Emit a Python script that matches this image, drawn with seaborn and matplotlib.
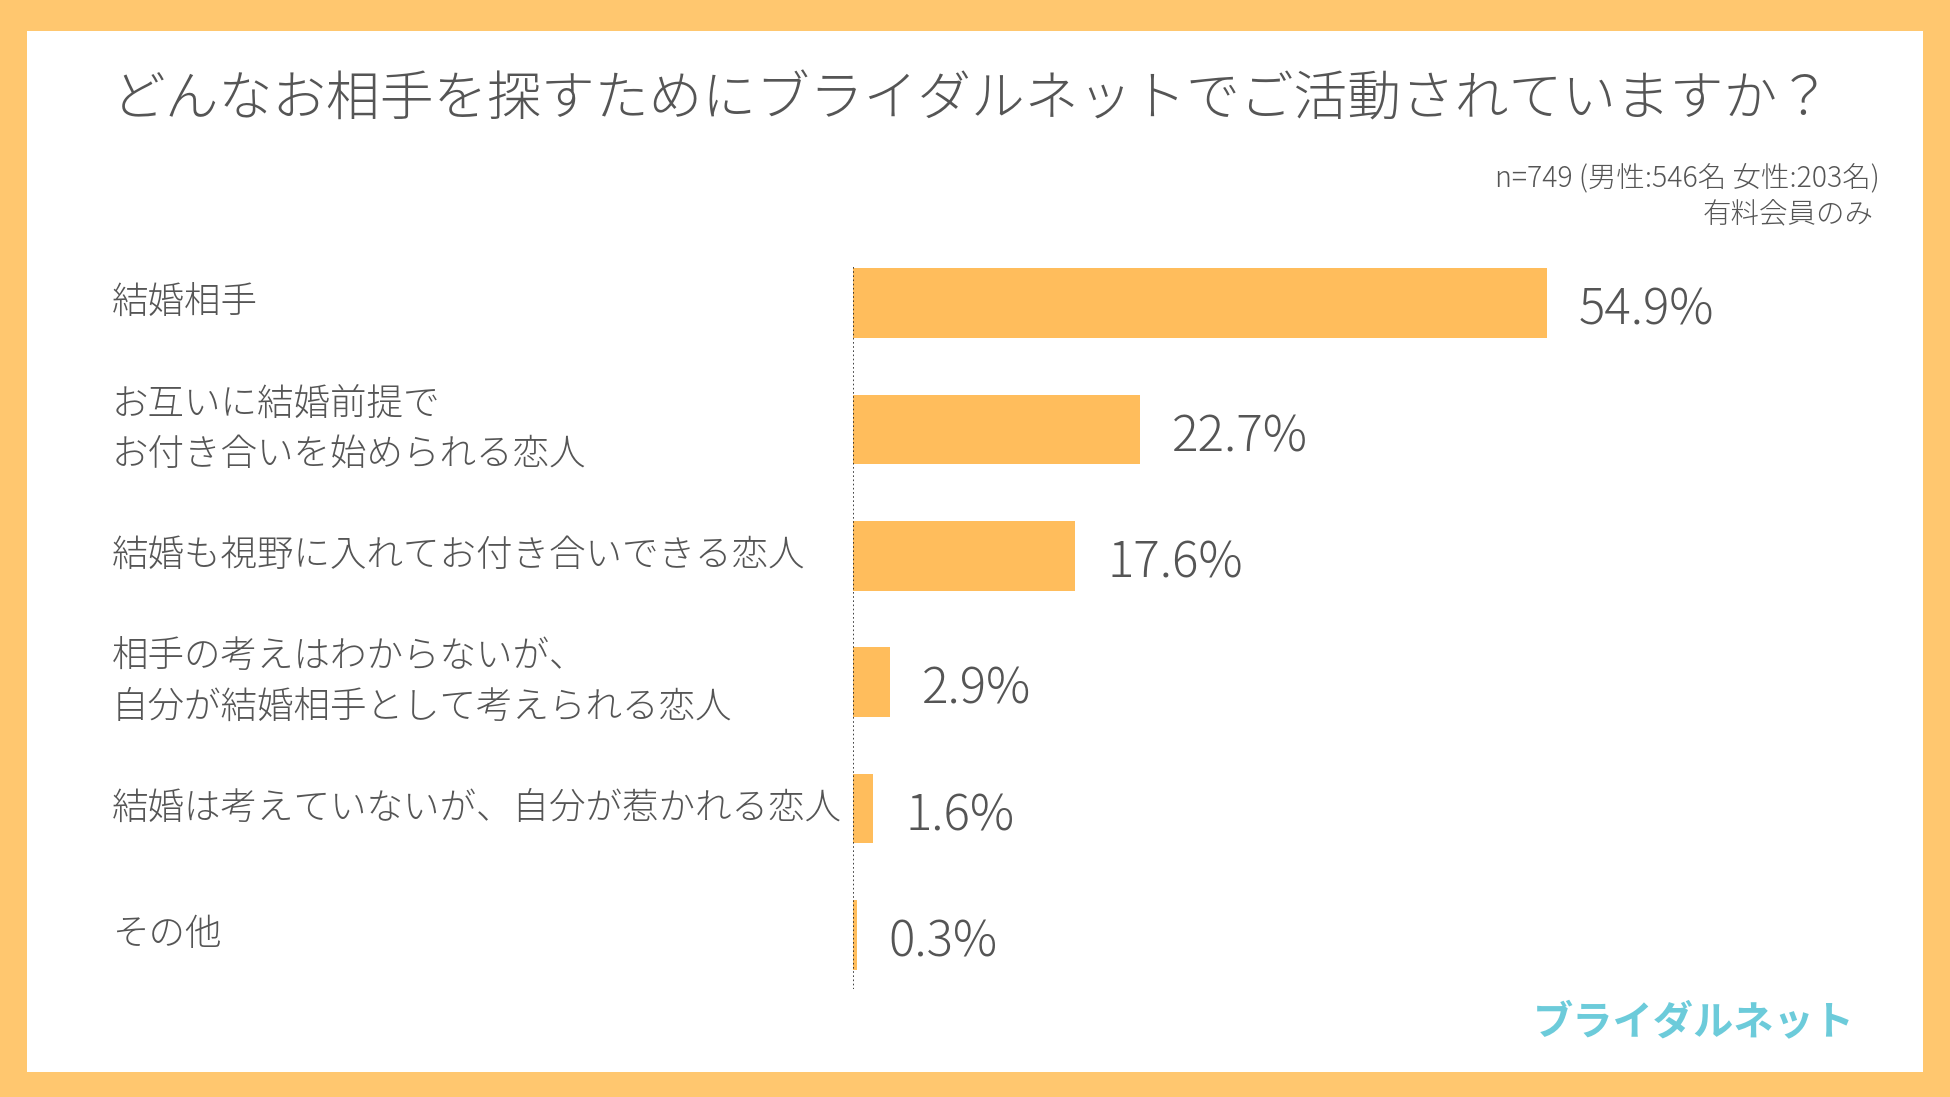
import matplotlib
matplotlib.use("Agg")
import matplotlib.pyplot as plt
import seaborn as sns
import pandas as pd
from matplotlib.patches import Rectangle

# ---- data ----
categories = [
    "結婚相手",
    "お互いに結婚前提で\nお付き合いを始められる恋人",
    "結婚も視野に入れてお付き合いできる恋人",
    "相手の考えはわからないが、\n自分が結婚相手として考えられる恋人",
    "結婚は考えていないが、自分が惹かれる恋人",
    "その他",
]
values = [54.9, 22.7, 17.6, 2.9, 1.6, 0.3]
value_labels = ["54.9%", "22.7%", "17.6%", "2.9%", "1.6%", "0.3%"]
title = "どんなお相手を探すためにブライダルネットでご活動されていますか？"
note_lines = ["n=749 (男性:546名 女性:203名)", "有料会員のみ"]
logo = "ブライダルネット"

sns.set_theme(style="white")
plt.rcParams["font.family"] = ["Noto Sans CJK JP", "DejaVu Sans"]

W, H = 1950, 1097
ORANGE_BG = "#FFC76F"
BAR = "#FFBD5C"
TXT = "#555555"

fig = plt.figure(figsize=(W / 100, H / 100), dpi=100, facecolor=ORANGE_BG)
fig.patches.append(Rectangle((27 / W, 1 - 1072 / H), (1923 - 27) / W, (1072 - 31) / H,
                             transform=fig.transFigure, facecolor="white",
                             edgecolor="none", zorder=-5))

ax_left, ax_right = 853 / W, 1864 / W
ax_top, ax_bot = 240 / H, 998 / H
ax = fig.add_axes([ax_left, 1 - ax_bot, ax_right - ax_left, ax_bot - ax_top])
ax.set_facecolor("none")
ax.set_zorder(2)

df = pd.DataFrame({"category": categories, "value": values})
sns.barplot(data=df, x="value", y="category", orient="h", color=BAR,
            saturation=1, width=0.554, ax=ax, edgecolor="none")
ax.set_xlim(0, 80)
ax.set_ylim(5.5, -0.5)
for s in ax.spines.values():
    s.set_visible(False)
ax.set_xticks([])
ax.set_yticks([])
ax.set_xlabel("")
ax.set_ylabel("")
ax.vlines(0, -0.285, 5.43, colors="#222222", linestyles=(0, (1, 1.5)), linewidth=1.2, zorder=3)

# value labels
for i, (v, lab) in enumerate(zip(values, value_labels)):
    ax.annotate(lab, xy=(v, i), xytext=(32, -8), textcoords="offset pixels",
                ha="left", va="center", fontsize=35.5, color=TXT, fontweight="light",
                annotation_clip=False)

# category labels (left aligned in figure space)
for i, c in enumerate(categories):
    y_px = ax.transData.transform((0, i))[1]
    fig.text(112 / W, y_px / H, c, ha="left", va="center", fontsize=26.3,
             color=TXT, linespacing=1.4, fontweight="light")

fig.text(112 / W, 1 - 100 / H, title, ha="left", va="center", fontsize=38.7,
         color=TXT, fontweight="light")
fig.text(1880 / W, 1 - 178 / H, note_lines[0], ha="right", va="center", fontsize=20.5,
         color=TXT, fontweight="light")
fig.text(1874 / W, 1 - 215 / H, note_lines[1], ha="right", va="center", fontsize=20.5,
         color=TXT, fontweight="light")
fig.text(1855 / W, 1 - 1024 / H, logo, ha="right", va="center", fontsize=29,
         color="#6CCBDA", fontweight="bold", style="italic")

fig.savefig("out.png", dpi=100, facecolor=ORANGE_BG)
